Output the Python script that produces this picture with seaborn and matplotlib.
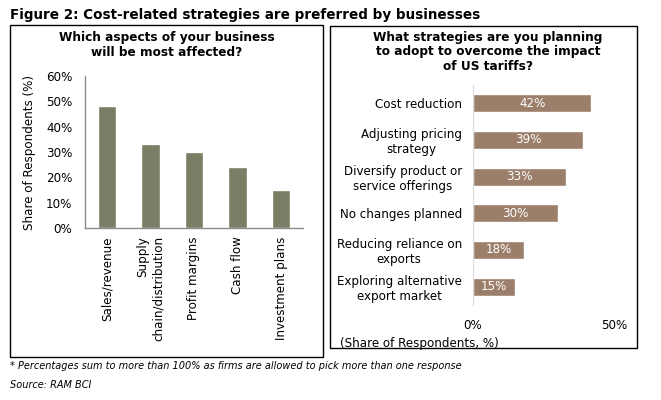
import numpy as np
import matplotlib
matplotlib.use("Agg")
import matplotlib.pyplot as plt
from matplotlib.patches import Rectangle
import seaborn as sb

sb.set_style("white")
plt.rcParams['font.family'] = ['DejaVu Sans']
plt.rcParams['text.color'] = 'black'
plt.rcParams['xtick.color'] = 'black'
plt.rcParams['ytick.color'] = 'black'
plt.rcParams['axes.labelcolor'] = 'black'

W, H = 661, 400
FS = 8.6  # body text size

# left panel: which aspects of business will be most affected
aspects = ["Sales/revenue", "Supply\nchain/distribution", "Profit margins",
           "Cash flow", "Investment plans"]
aspect_share = [48, 33, 30, 24, 15]
aspect_ticks = [0, 10, 20, 30, 40, 50, 60]

# right panel: strategies to overcome US tariffs
strategies = ["Cost reduction", "Adjusting pricing\nstrategy",
              "Diversify product or\nservice offerings", "No changes planned",
              "Reducing reliance on\nexports", "Exploring alternative\nexport market"]
strategy_share = [42, 39, 33, 30, 18, 15]
strategy_ticks = [0, 50]

olive = "#7b7d64"
brown = "#9c7f6a"


def px_axes(fig, x0, y0, x1, y1):
    # pixel box (from top-left) -> figure axes
    return fig.add_axes([x0 / W, 1 - y1 / H, (x1 - x0) / W, (y1 - y0) / H])


fig = plt.figure(figsize=(W / 100, H / 100), dpi=100)

# frames round each panel
for (x0, y0, x1, y1) in [(10, 25, 323, 357), (330, 26, 637, 348)]:
    fig.patches.append(Rectangle((x0 / W, 1 - y1 / H), (x1 - x0) / W, (y1 - y0) / H,
                                 transform=fig.transFigure, fill=False,
                                 edgecolor="black", linewidth=1.0))

# ---- left chart
ax1 = px_axes(fig, 85, 76, 303, 228)
sb.barplot(x=aspects, y=aspect_share, color=olive, saturation=1, width=0.42, ax=ax1)
ax1.set_xlim(-0.5, len(aspects) - 0.5)
ax1.set_ylim(0, 60)
ax1.set_yticks(aspect_ticks)
ax1.set_yticklabels([f"{t}%" for t in aspect_ticks], fontsize=FS)
ax1.set_ylabel("Share of Respondents (%)", fontsize=FS, labelpad=7)
ax1.tick_params(axis="y", length=0, pad=9)
ax1.tick_params(axis="x", length=0, pad=6)
for t in ax1.get_xticklabels():
    t.set_rotation(90)
    t.set_fontsize(FS)
    t.set_va("top")
    t.set_ha("center")
    t.set_multialignment("right")
for s in ["top", "right"]:
    ax1.spines[s].set_visible(False)
for s in ["left", "bottom"]:
    ax1.spines[s].set_color("#8c8c8c")
    ax1.spines[s].set_linewidth(1.0)

fig.text(167 / W, 1 - 45 / H, "Which aspects of your business\nwill be most affected?",
         ha="center", va="center", fontsize=8.7, fontweight="bold", linespacing=1.2)

# ---- right chart
ax2 = px_axes(fig, 473, 85, 614, 305)
sb.barplot(x=strategy_share, y=strategies, color=brown, saturation=1, width=0.49,
           orient="h", ax=ax2)
ax2.set_xlim(0, 50)
ax2.set_ylim(len(strategies) - 0.5, -0.5)
ax2.set_xticks(strategy_ticks)
ax2.set_xticklabels([f"{t}%" for t in strategy_ticks], fontsize=FS)
ax2.tick_params(axis="x", length=0, pad=10)
ax2.tick_params(axis="y", length=0, pad=8)
for t in ax2.get_yticklabels():
    t.set_fontsize(FS)
    t.set_multialignment("center")
ax2.set_xlabel("")
ax2.set_ylabel("")
for s in ["top", "right", "bottom"]:
    ax2.spines[s].set_visible(False)
ax2.spines["left"].set_color("#d9d9d9")
ax2.bar_label(ax2.containers[0], labels=[f"{v}%" for v in strategy_share],
              label_type="center", color="white", fontsize=FS)

fig.text(488 / W, 1 - 52 / H,
         "What strategies are you planning\nto adopt to overcome the impact\nof US tariffs?",
         ha="center", va="center", fontsize=8.7, fontweight="bold", linespacing=1.2)
fig.text(340 / W, 1 - 343 / H, "(Share of Respondents, %)", ha="left", va="center",
         fontsize=FS)

# ---- headline and notes
fig.text(10 / W, 1 - 15 / H, "Figure 2: Cost-related strategies are preferred by businesses",
         ha="left", va="center", fontsize=9.75, fontweight="bold")
fig.text(10 / W, 1 - 366 / H,
         "* Percentages sum to more than 100% as firms are allowed to pick more than one response",
         ha="left", va="center", fontsize=7.0, style="italic")
fig.text(10 / W, 1 - 385 / H, "Source: RAM BCI", ha="left", va="center",
         fontsize=7.0, style="italic")

fig.savefig("out.png", dpi=100)
